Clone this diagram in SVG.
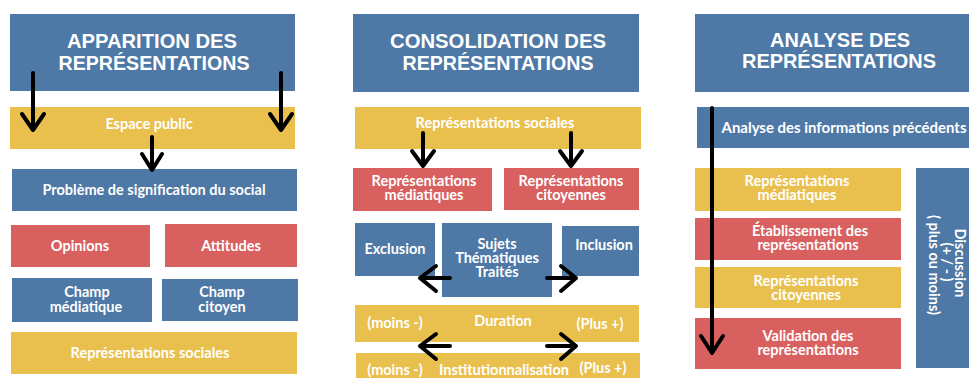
<svg xmlns="http://www.w3.org/2000/svg" width="969" height="378" viewBox="0 0 969 378">
<style>
.b{fill:#4e78a6}.y{fill:#e9c04e}.r{fill:#d8605f}
text{font-family:Lato,"Open Sans","Liberation Sans",sans-serif;font-weight:700;fill:#fff;text-anchor:middle;font-size:14.5px}
.t{font-family:"Liberation Sans",Arial,sans-serif;font-size:21px;font-weight:700}
.a{fill:none;stroke:#000;stroke-width:4;stroke-linecap:round;stroke-linejoin:round}
</style>
<rect width="969" height="378" fill="#fff"/>
<!-- Column 1 -->
<g id="title1"><rect class="b" x="10" y="14" width="285" height="77"/>
<text class="t" x="152" y="48" textLength="170" lengthAdjust="spacingAndGlyphs">APPARITION DES</text>
<text class="t" x="154" y="70" textLength="191" lengthAdjust="spacingAndGlyphs">REPRÉSENTATIONS</text></g>
<g id="espace"><rect class="y" x="10" y="107" width="285" height="42"/><text x="149" y="129">Espace public</text></g>
<g id="probleme"><rect class="b" x="12" y="169" width="285" height="42"/><text x="154" y="195">Problème de signification du social</text></g>
<g id="opinions"><rect class="r" x="11" y="225" width="139" height="42"/><text x="80" y="251">Opinions</text></g>
<g id="attitudes"><rect class="r" x="165" y="224" width="132" height="43"/><text x="231" y="251">Attitudes</text></g>
<g id="champmed"><rect class="b" x="12" y="278" width="140" height="44"/><text x="87" y="297">Champ</text><text x="86" y="312">médiatique</text></g>
<g id="champcit"><rect class="b" x="162" y="279" width="136" height="42"/><text x="222" y="297">Champ</text><text x="222" y="312">citoyen</text></g>
<g id="repsoc1"><rect class="y" x="11" y="332" width="286" height="42"/><text x="150" y="358">Représentations sociales</text></g>
<!-- Column 2 -->
<g id="title2"><rect class="b" x="353" y="14" width="286" height="78"/>
<text class="t" x="498" y="48" textLength="216" lengthAdjust="spacingAndGlyphs">CONSOLIDATION DES</text>
<text class="t" x="498" y="70" textLength="191" lengthAdjust="spacingAndGlyphs">REPRÉSENTATIONS</text></g>
<g id="repsoc2"><rect class="y" x="355" y="107" width="286" height="42"/><text x="495" y="128">Représentations sociales</text></g>
<g id="repmed2"><rect class="r" x="353" y="168" width="139" height="43"/><text x="424" y="186">Représentations</text><text x="424" y="200">médiatiques</text></g>
<g id="repcit2"><rect class="r" x="504" y="168" width="135" height="42"/><text x="571" y="186">Représentations</text><text x="571" y="200">citoyennes</text></g>
<g id="exclusion"><rect class="b" x="355" y="223" width="80" height="53"/><text x="395" y="254">Exclusion</text></g>
<g id="sujets"><rect class="b" x="442" y="223" width="110" height="74"/><text x="497" y="249">Sujets</text><text x="497" y="263">Thématiques</text><text x="497" y="277">Traités</text></g>
<g id="inclusion"><rect class="b" x="562" y="226" width="77" height="50"/><text x="604" y="250">Inclusion</text></g>
<g id="duration"><rect class="y" x="355" y="305" width="284" height="37"/><text x="395" y="328">(moins -)</text><text x="503" y="326">Duration</text><text x="600" y="329">(Plus +)</text></g>
<g id="institution"><rect class="y" x="356" y="353" width="284" height="30"/><text x="395" y="375">(moins -)</text><text x="504" y="375">Institutionnalisation</text><text x="603" y="373">(Plus +)</text></g>
<!-- Column 3 -->
<g id="title3"><rect class="b" x="695" y="14" width="280" height="78"/>
<text class="t" x="840" y="47" textLength="140" lengthAdjust="spacingAndGlyphs">ANALYSE DES</text>
<text class="t" x="839" y="68" textLength="194" lengthAdjust="spacingAndGlyphs">REPRÉSENTATIONS</text></g>
<g id="analyse"><rect class="b" x="697" y="107" width="280" height="41"/><text x="844" y="133" textLength="245" lengthAdjust="spacingAndGlyphs">Analyse des informations précédents</text></g>
<g id="repmed3"><rect class="y" x="695" y="168" width="206" height="43"/><text x="797" y="186">Représentations</text><text x="797" y="200">médiatiques</text></g>
<g id="etab"><rect class="r" x="695" y="218" width="206" height="42"/><text x="810" y="236">Établissement des</text><text x="808" y="250">représentations</text></g>
<g id="repcit3"><rect class="y" x="695" y="267" width="206" height="41"/><text x="806" y="286">Représentations</text><text x="806" y="300">citoyennes</text></g>
<g id="validation"><rect class="r" x="695" y="318" width="206" height="51"/><text x="808" y="341">Validation des</text><text x="808" y="355">représentations</text></g>
<g id="discussion"><rect class="b" x="916" y="168" width="60" height="200"/>
<text transform="translate(955,263) rotate(90)">Discussion</text>
<text transform="translate(942,262) rotate(90)">(+ / - )</text>
<text transform="translate(929,265) rotate(90)">( plus ou moins)</text></g>
<!-- Connectors -->
<g id="connectors" class="a">
<path d="M33 73V130M22 114L33 130L44 114"/>
<path d="M281 73V130M270 114L281 130L292 114"/>
<path d="M152 137V170M142 154L152 170L162 154"/>
<path d="M423 133V166M412 151L423 166L434 151"/>
<path d="M571 133V166M560 151L571 166L582 151"/>
<path d="M450 278H420M436 266L420 278L436 291"/>
<path d="M547 278H576M561 266L576 278L561 291"/>
<path d="M450 346H420M436 334L420 346L436 359"/>
<path d="M547 346H576M561 334L576 346L561 359"/>
<path d="M712 108V353M701 336L712 353L723 336"/>
</g>
</svg>
